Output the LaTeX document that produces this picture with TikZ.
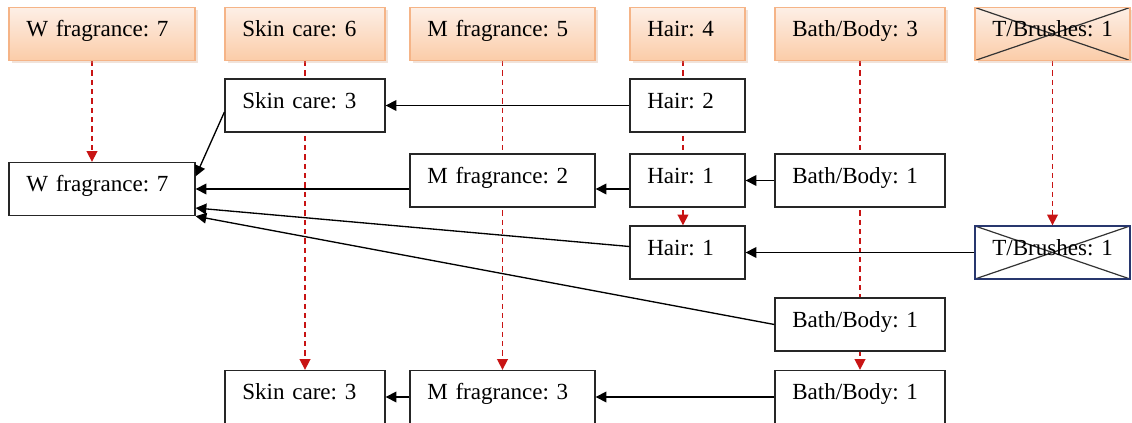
\documentclass[tikz,border=0pt]{standalone}
\usepackage{fontspec}
\setmainfont{Liberation Serif}
\usetikzlibrary{positioning,arrows.meta,shadows,backgrounds}

\definecolor{headtop}{RGB}{253,239,230}
\definecolor{headbot}{RGB}{251,204,168}
\definecolor{headline}{RGB}{245,180,135}
\definecolor{flowred}{RGB}{200,20,20}
\definecolor{navyline}{RGB}{40,55,110}

\tikzset{
  box/.style={draw=black!85, line width=1pt, fill=white, minimum height=39.75pt,
    inner xsep=13pt, align=left, text height=12pt, text depth=8pt,
    font=\fontsize{17.3}{20}\selectfont\frenchspacing},
  head/.style={box, draw=headline, top color=headtop, bottom color=headbot,
    drop shadow={shadow xshift=2pt, shadow yshift=-2pt, opacity=0.3, fill=headline!70!gray}},
  crossed/.style={path picture={\draw[line width=0.9pt, black!80]
      (path picture bounding box.north west) -- (path picture bounding box.south east)
      (path picture bounding box.south west) -- (path picture bounding box.north east);}},
  col1/.style={text width=113.5pt},
  col2/.style={text width=94pt},
  col3/.style={text width=112.75pt},
  col4/.style={text width=60.25pt},
  col5/.style={text width=101.5pt},
  col6/.style={text width=90.25pt},
  arr/.style={-{Triangle[length=8pt,width=8pt]}, line width=1pt},
  flow/.style={-{Triangle[length=8pt,width=8pt]}, flowred, line width=1.2pt,
    dash pattern=on 4pt off 3pt},
}

\begin{document}
\begin{tikzpicture}[x=0.75pt, y=-0.75pt]
\useasboundingbox (0,0) rectangle (1132,423);

% ======================================
% THE HEADER ROW
% ======================================
\node[head, col1] (h1) at (102,34) {W fragrance: 7};
\node[head, col2] (h2) at (305,34) {Skin care: 6};
\node[head, col3] (h3) at (502.5,34) {M fragrance: 5};
\node[head, col4] (h4) at (687.5,34) {Hair: 4};
\node[head, col5] (h5) at (860,34) {Bath/Body: 3};
\node[head, col6, crossed] (h6) at (1052.5,34) {T/Brushes:~1};

% ======================================
% ROW 1 AND 2: MERGING INTO W FRAGRANCE
% ======================================
\node[box, col2] (skin3a) at (305,105.5) {Skin care: 3};
\node[box, col4] (hair2) at (687.5,105.5) {Hair: 2};
\draw[arr] (hair2.west) -- (skin3a.east);

\node[box, col1] (wf) at (102,189) {W fragrance: 7};
\node[box, col3] (mf2) at (502.5,180.5) {M fragrance: 2};
\node[box, col4] (hair1b) at (687.5,180.5) {Hair: 1};
\node[box, col5] (bath1b) at (860,180.5) {Bath/Body: 1};
\draw[arr] ([yshift=-5pt]skin3a.west) -- ([yshift=9.5pt]wf.east);
\draw[arr] (mf2.west |- wf.east) -- (wf.east);
\draw[arr] (hair1b.west |- wf.east) -- (mf2.east |- wf.east);
\draw[arr] (bath1b.west) -- (hair1b.east);

% ======================================
% ROW 3 AND 4: T/BRUSHES AND BATH/BODY
% ======================================
\node[box, col4] (hair1c) at (687.5,252.5) {Hair: 1};
\node[box, col6, crossed, draw=navyline] (tb) at (1052.5,252.5) {T/Brushes:~1};
\draw[arr] (tb.west) -- (hair1c.east);
\draw[arr] ([yshift=4.5pt]hair1c.west) -- ([yshift=-14.25pt]wf.east);

\node[box, col5] (bath1d) at (860,324.5) {Bath/Body: 1};
\draw[arr] (bath1d.west) -- (wf.south east);

% ======================================
% BOTTOM ROW
% ======================================
\node[box, col2] (skin3e) at (305,397) {Skin care: 3};
\node[box, col3] (mf3) at (502.5,397) {M fragrance: 3};
\node[box, col5] (bath1e) at (860,397) {Bath/Body: 1};
\draw[arr] (mf3.west) -- (skin3e.east);
\draw[arr] (bath1e.west) -- (mf3.east);

% ======================================
% DASHED FLOWS FROM THE HEADERS
% ======================================
\begin{pgfonlayer}{background}
\fill[white] (0,0) rectangle (1132,423);
\draw[flow] ([xshift=-7.5pt]h1.south) -- ([xshift=-7.5pt]wf.north);
\draw[flow] (h2.south) -- (skin3e.north);
\draw[flow] (h3.south) -- (mf3.north);
\draw[flow] ([xshift=-3.4pt]h4.south) -- ([xshift=-3.4pt]hair1c.north);
\draw[flow] (h5.south) -- (bath1e.north);
\draw[flow] (h6.south) -- (tb.north);
\end{pgfonlayer}

\end{tikzpicture}
\end{document}
